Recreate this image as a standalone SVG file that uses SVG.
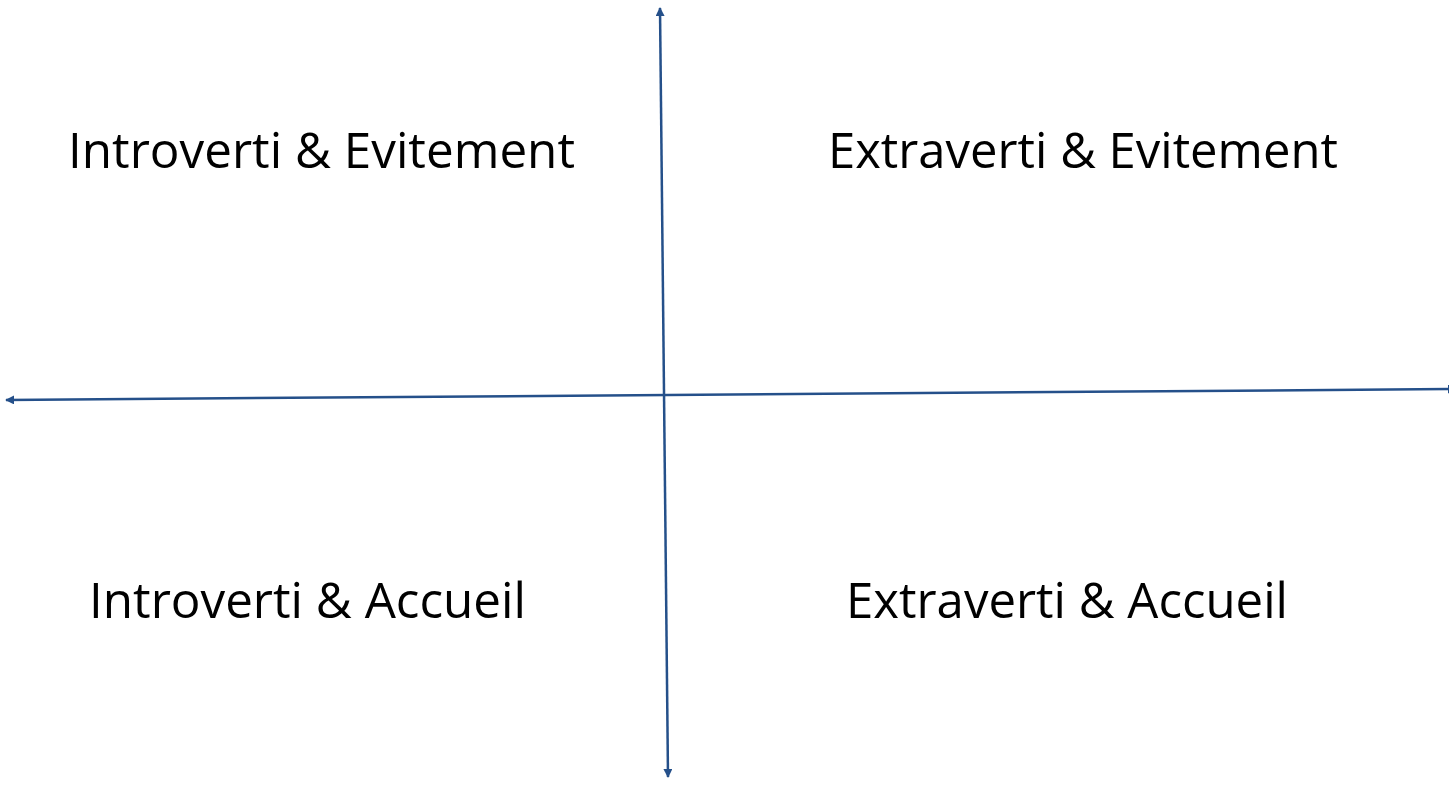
<svg xmlns="http://www.w3.org/2000/svg" width="1449" height="786" viewBox="0 0 1449 786">
<style>
.lbl{font-family:"Open Sans","Noto Sans","Liberation Sans",sans-serif;font-size:50px;fill:#000}
.axis{stroke:#25508A;stroke-width:2.5;fill:none;marker-start:url(#ah);marker-end:url(#ah)}
</style>
<defs>
<marker id="ah" viewBox="0 0 10 10" refX="9" refY="5" markerWidth="9" markerHeight="9" markerUnits="userSpaceOnUse" orient="auto-start-reverse">
<path d="M0,0 L10,5 L0,10 z" fill="#25508A"/>
</marker>
</defs>
<rect width="1449" height="786" fill="#fff"/>
<g id="connectors">
<line class="axis" x1="660" y1="8" x2="668" y2="777"/>
<line class="axis" x1="6" y1="400" x2="1456" y2="389"/>
</g>
<g id="q1"><text class="lbl" x="68" y="168" textLength="507" lengthAdjust="spacingAndGlyphs">Introverti &amp; Evitement</text></g>
<g id="q2"><text class="lbl" x="828" y="168" textLength="510" lengthAdjust="spacingAndGlyphs">Extraverti &amp; Evitement</text></g>
<g id="q3"><text class="lbl" x="89" y="618" textLength="437" lengthAdjust="spacingAndGlyphs">Introverti &amp; Accueil</text></g>
<g id="q4"><text class="lbl" x="846" y="618" textLength="442" lengthAdjust="spacingAndGlyphs">Extraverti &amp; Accueil</text></g>
</svg>
